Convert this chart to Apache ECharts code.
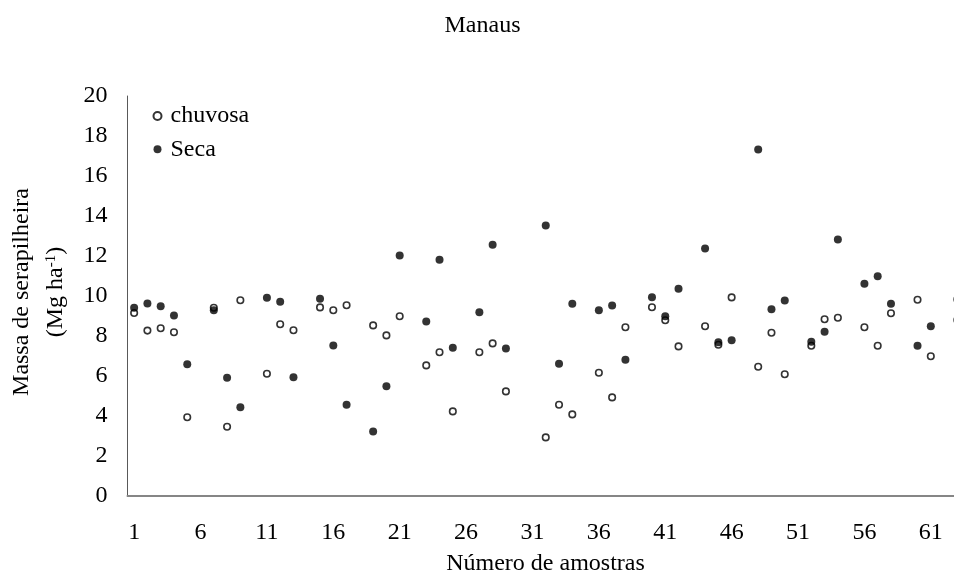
<!DOCTYPE html>
<html>
<head>
<meta charset="utf-8">
<title>Manaus</title>
<script src="https://cdn.jsdelivr.net/npm/echarts@6/dist/echarts.min.js"></script>
<style>
  html, body { margin: 0; padding: 0; background: #fff; }
  #chart { width: 954px; height: 578px; }
</style>
</head>
<body>
<div id="chart"></div>
<script>
// Sample numbers along the x axis
const samples = [
  1, 2, 3, 4, 5, 6, 7, 8, 9, 10, 11, 12, 13, 14, 15, 16, 17, 18, 19, 20,
  21, 22, 23, 24, 25, 26, 27, 28, 29, 30, 31, 32, 33, 34, 35, 36, 37, 38, 39, 40,
  41, 42, 43, 44, 45, 46, 47, 48, 49, 50, 51, 52, 53, 54, 55, 56, 57, 58, 59, 60,
  61, 62, 63
];

// Labelled sample numbers
const xTickLabels = ['1', '6', '11', '16', '21', '26', '31', '36', '41', '46', '51', '56', '61'];

// Litter mass (Mg ha-1), rainy season
const chuvosa = [
  9.15, 8.27, 8.39, 8.19, 3.94, null, 9.41, 3.46, 9.79, null,
  6.11, 8.59, 8.29, null, 9.43, 9.29, 9.54, null, 8.53, 8.03,
  8.99, null, 6.53, 7.19, 4.23, null, 7.19, 7.63, 5.23, null,
  null, 2.93, 4.56, 4.08, null, 6.16, 4.93, 8.44, null, 9.44,
  8.79, 7.48, null, 8.49, 7.56, 9.93, null, 6.46, 8.16, 6.09,
  null, 7.51, 8.84, 8.91, null, 8.44, 7.51, 9.14, null, 9.81,
  6.99, null, 8.80
];

// Litter mass (Mg ha-1), dry season
const seca = [
  9.41, 9.62, 9.49, 9.03, 6.59, null, 9.29, 5.91, 4.44, null,
  9.91, 9.71, 5.94, null, 9.86, 7.53, 4.56, null, 3.23, 5.49,
  12.03, null, 8.73, 11.81, 7.41, null, 9.19, 12.56, 7.38, null,
  null, 13.53, 6.61, 9.61, null, 9.29, 9.53, 6.81, null, 9.94,
  8.99, 10.36, null, 12.38, 7.69, 7.79, null, 17.33, 9.34, 9.78,
  null, 7.71, 8.21, 12.83, null, 10.61, 10.99, 9.61, null, 7.51,
  8.49, null, 9.83
];

// Value axis ticks
const yTicks = { min: 0, max: 20, interval: 2 };

const FONT = '"Liberation Serif", "Times New Roman", serif';
const FS = 24;

const chart = echarts.init(document.getElementById('chart'), null, { renderer: 'canvas' });

chart.setOption({
  animation: false,
  backgroundColor: '#ffffff',
  textStyle: { fontFamily: FONT, color: '#000' },
  grid: {
    left: 127.5, top: 96, width: 836.5, height: 400,
    containLabel: false,
    outerBoundsMode: 'none'
  },
  legend: {
    orient: 'vertical',
    left: 152.5,
    top: 104,
    padding: 0,
    itemGap: 9.3,
    itemWidth: 8,
    itemHeight: 8,
    icon: 'circle',
    textStyle: { fontFamily: FONT, fontSize: FS, color: '#000', lineHeight: 24, padding: [0, 0, 0, 4] },
    data: ['chuvosa', 'Seca']
  },
  xAxis: {
    type: 'category',
    data: samples.map(String),
    boundaryGap: true,
    axisLine: { show: true, lineStyle: { color: '#868686', width: 2 } },
    axisTick: { show: false },
    splitLine: { show: false },
    axisLabel: {
      interval: (idx, value) => xTickLabels.indexOf(value) !== -1,
      margin: 25,
      fontFamily: FONT,
      fontSize: FS,
      color: '#000'
    }
  },
  yAxis: {
    type: 'value',
    min: yTicks.min,
    max: yTicks.max,
    interval: yTicks.interval,
    axisLine: { show: true, lineStyle: { color: '#595959', width: 1 } },
    axisTick: { show: false },
    splitLine: { show: false },
    axisLabel: { margin: 20, fontFamily: FONT, fontSize: FS, color: '#000' }
  },
  series: [
    {
      name: 'chuvosa',
      type: 'scatter',
      data: chuvosa,
      symbol: 'circle',
      symbolSize: 6.5,
      itemStyle: { color: '#ffffff', borderColor: '#000000', borderWidth: 1.6 },
      emphasis: { disabled: true }
    },
    {
      name: 'Seca',
      type: 'scatter',
      data: seca,
      symbol: 'circle',
      symbolSize: 8,
      itemStyle: { color: '#000000' },
      emphasis: { disabled: true }
    }
  ],
  graphic: [
    {
      type: 'text',
      x: 482.5,
      y: 26,
      style: {
        text: 'Manaus',
        font: FS + 'px ' + FONT,
        fill: '#000',
        align: 'center',
        verticalAlign: 'middle'
      }
    },
    {
      type: 'text',
      x: 545.5,
      y: 564,
      style: {
        text: 'Número de amostras',
        font: FS + 'px ' + FONT,
        fill: '#000',
        align: 'center',
        verticalAlign: 'middle'
      }
    },
    {
      type: 'text',
      x: 22,
      y: 292,
      rotation: Math.PI / 2,
      style: {
        text: 'Massa de serapilheira',
        font: FS + 'px ' + FONT,
        fill: '#000',
        align: 'center',
        verticalAlign: 'middle'
      }
    },
    {
      type: 'text',
      x: 56,
      y: 292,
      rotation: Math.PI / 2,
      style: {
        text: '{n|(Mg ha}{s|-1}{n|)}',
        align: 'center',
        verticalAlign: 'middle',
        rich: {
          n: { fontFamily: FONT, fontSize: FS, fill: '#000', color: '#000', verticalAlign: 'bottom' },
          s: { fontFamily: FONT, fontSize: 15, fill: '#000', color: '#000', verticalAlign: 'top' }
        }
      }
    }
  ]
});
</script>
</body>
</html>
